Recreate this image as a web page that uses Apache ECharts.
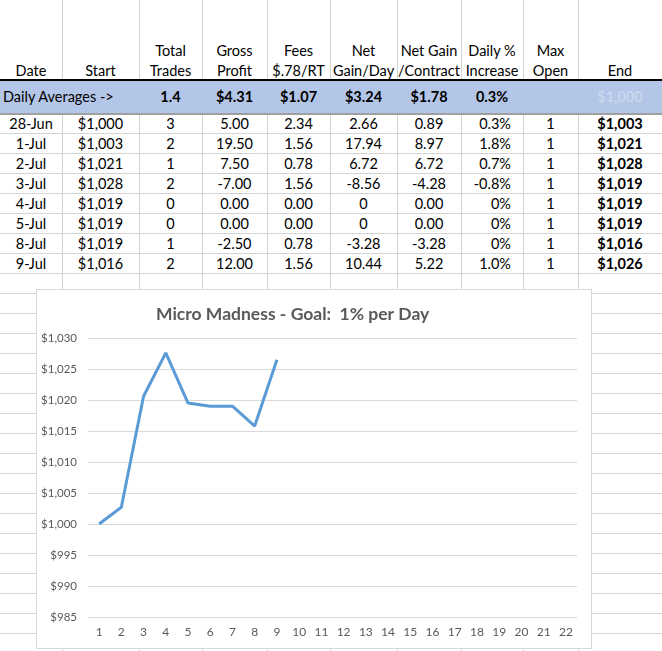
<!DOCTYPE html>
<html>
<head>
<meta charset="utf-8">
<script src="https://cdn.jsdelivr.net/npm/echarts@6/dist/echarts.min.js"></script>
<style>
  body { margin: 0; width: 662px; height: 651px; overflow: hidden; background: #fff;
         font-family: Lato, 'Open Sans', sans-serif; font-size: 14.5px; color: #000; position: relative; }
  .v { position: absolute; top: 0; width: 1px; height: 651px; background: #d4d4d4; }
  .h { position: absolute; left: 0; width: 662px; height: 1px; background: #d4d4d4; }
  .c { position: absolute; height: 20px; line-height: 20px; text-align: center; white-space: nowrap; }
  #avg { position: absolute; left: 0; top: 81px; width: 662px; height: 32px; background: #b4c6e7; border-bottom: 2px solid #a0a0a0; }
  #headLine { position: absolute; left: 0; top: 79px; width: 662px; height: 2px; background: #000; }
  #chart { position: absolute; left: 36px; top: 289px; width: 554px; height: 358px; background: #fff; border: 1px solid #d9d9d9; }
</style>
</head>
<body>
<div id="sheet"></div>
<div id="chart"></div>
<script>
// table columns
var headTop = ['', '', 'Total', 'Gross', 'Fees', 'Net', 'Net Gain', 'Daily %', 'Max', ''];
var headBottom = ['Date', 'Start', 'Trades', 'Profit', '$.78/RT', 'Gain/Day', '/Contract', 'Increase', 'Open', 'End'];
var avgLabel = 'Daily Averages ->';
var avgValues = ['1.4', '$4.31', '$1.07', '$3.24', '$1.78', '0.3%', '', '$1,000'];

var dates = ['28-Jun', '1-Jul', '2-Jul', '3-Jul', '4-Jul', '5-Jul', '8-Jul', '9-Jul'];
var starts = ['$1,000', '$1,003', '$1,021', '$1,028', '$1,019', '$1,019', '$1,019', '$1,016'];
var trades = ['3', '2', '1', '2', '0', '0', '1', '2'];
var gross = ['5.00', '19.50', '7.50', '-7.00', '0.00', '0.00', '-2.50', '12.00'];
var fees = ['2.34', '1.56', '0.78', '1.56', '0.00', '0.00', '0.78', '1.56'];
var netDay = ['2.66', '17.94', '6.72', '-8.56', '0', '0', '-3.28', '10.44'];
var netContract = ['0.89', '8.97', '6.72', '-4.28', '0.00', '0.00', '-3.28', '5.22'];
var dailyPct = ['0.3%', '1.8%', '0.7%', '-0.8%', '0%', '0%', '0%', '1.0%'];
var maxOpen = ['1', '1', '1', '1', '1', '1', '1', '1'];
var ends = ['$1,003', '$1,021', '$1,028', '$1,019', '$1,019', '$1,019', '$1,016', '$1,026'];

// chart
var days = ['1','2','3','4','5','6','7','8','9','10','11','12','13','14','15','16','17','18','19','20','21','22'];
var balance = [1000, 1002.7, 1020.6, 1027.6, 1019.5, 1019.0, 1019.0, 1015.8, 1026.5];

var colEdges = [0, 62, 139, 202, 267, 330, 397, 461, 523, 578, 662];

function buildSheet() {
  var sheet = document.getElementById('sheet');

  function add(cls, css, text) {
    var d = document.createElement('div');
    d.className = cls;
    d.style.cssText = css;
    if (text !== undefined) d.textContent = text;
    sheet.appendChild(d);
    return d;
  }
  function cell(col, y, text, extra) {
    var l = colEdges[col], w = colEdges[col + 1] - l;
    return add('c', 'left:' + l + 'px;width:' + w + 'px;top:' + y + 'px;' + (extra || ''), text);
  }

  // gridlines
  for (var i = 1; i < colEdges.length - 1; i++) add('v', 'left:' + colEdges[i] + 'px');
  for (var y = 133; y < 651; y += 20) add('h', 'top:' + y + 'px');
  add('', '').id = 'avg';
  add('', '').id = 'headLine';

  // header
  for (var c = 0; c < 10; c++) {
    cell(c, 41, headTop[c]);
    cell(c, 61, headBottom[c]);
  }
  // averages row
  add('c', 'left:3px;top:87px;text-align:left', avgLabel);
  for (var c = 0; c < avgValues.length; c++) {
    cell(c + 2, 87, avgValues[c], c === 7 ? 'font-weight:bold;color:#cad6ee' : 'font-weight:bold');
  }
  // data rows
  var cols = [dates, starts, trades, gross, fees, netDay, netContract, dailyPct, maxOpen, ends];
  for (var r = 0; r < dates.length; r++) {
    var rowTop = 114 + r * 20;
    for (var c = 0; c < cols.length; c++) {
      var extra = '';
      if (c === 7) extra = 'text-align:right;width:50px';
      if (c === 9) extra = 'font-weight:bold';
      cell(c, rowTop, cols[c][r], extra);
    }
  }
}
buildSheet();

var myChart = echarts.init(document.getElementById('chart'));
var option = {
  animation: false,
  title: {
    text: 'Micro Madness - Goal:  1% per Day',
    left: 114,
    top: 10,
    textStyle: { fontFamily: 'Lato', fontWeight: 'bold', fontSize: 17.5, color: '#595959' }
  },
  grid: { left: 51, right: 14, top: 48, bottom: 31, containLabel: false },
  xAxis: {
    type: 'category',
    data: days,
    boundaryGap: true,
    axisLine: { show: false },
    axisTick: { show: false },
    axisLabel: { color: '#595959', fontFamily: 'Lato', fontSize: 12, margin: 9 }
  },
  yAxis: {
    type: 'value',
    min: 985,
    max: 1030,
    interval: 5,
    axisLine: { show: false },
    axisTick: { show: false },
    splitLine: { lineStyle: { color: '#d9d9d9', width: 1 } },
    axisLabel: {
      color: '#595959', fontFamily: 'Lato', fontSize: 11.5, margin: 11,
      formatter: function (v) { return '$' + v.toLocaleString('en-US'); }
    }
  },
  series: [{
    type: 'line',
    data: balance,
    symbol: 'none',
    lineStyle: { color: '#5b9bd5', width: 3 }
  }]
};
myChart.setOption(option);
</script>
</body>
</html>
